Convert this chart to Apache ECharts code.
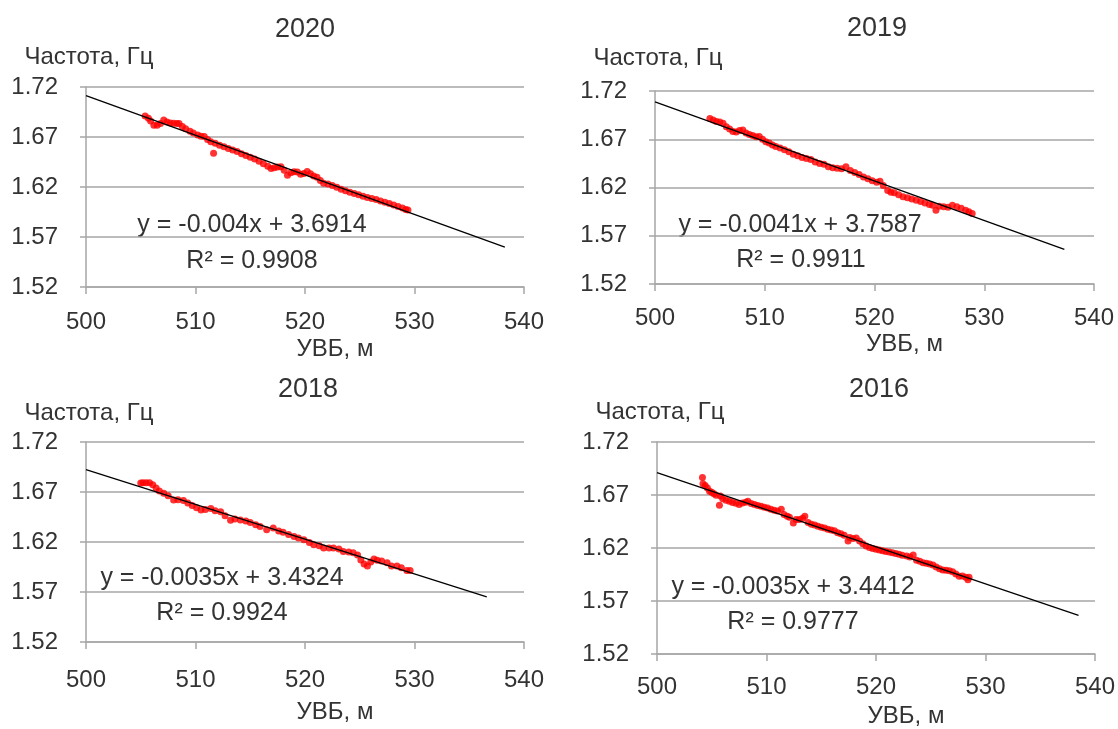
<!DOCTYPE html>
<html>
<head>
<meta charset="utf-8">
<title>Частота – УВБ</title>
<script src="https://cdn.jsdelivr.net/npm/echarts@6/dist/echarts.min.js"></script>
<style>
  html, body { margin: 0; padding: 0; background: #fff; }
  #chart { width: 1118px; height: 729px; }
</style>
</head>
<body>
<div id="chart"></div>
<script>
// Panel titles (years)
const years = ['2020', '2019', '2018', '2016'];

// Water level (УВБ, м) and natural frequency (Гц) per year
const uvb2020 = [505.4,505.7,505.9,506.2,506.5,506.8,507.1,507.4,507.7,508.0,508.3,508.5,508.8,509.1,509.5,509.8,510.2,510.5,510.8,511.1,511.4,511.65,511.8,512.2,512.6,513.0,513.4,513.8,514.2,514.6,515.0,515.4,515.8,516.2,516.6,516.9,517.2,517.5,517.8,518.1,518.4,518.7,519.0,519.3,519.6,519.9,520.2,520.5,520.8,521.1,521.4,521.7,522.1,522.5,522.9,523.3,523.7,524.1,524.5,524.9,525.3,525.7,526.1,526.5,526.9,527.3,527.7,528.1,528.5,528.9,529.2,529.4];
const freq2020 = [1.6910,1.6888,1.6860,1.6818,1.6817,1.6835,1.6870,1.6851,1.6839,1.6837,1.6835,1.6835,1.6805,1.6783,1.6758,1.6739,1.6720,1.6708,1.6706,1.6674,1.6653,1.6538,1.6637,1.6618,1.6602,1.6586,1.6570,1.6555,1.6532,1.6516,1.6497,1.6479,1.6458,1.6433,1.6407,1.6385,1.6393,1.6401,1.6402,1.6367,1.6318,1.6343,1.6352,1.6350,1.6328,1.6336,1.6354,1.6332,1.6310,1.6298,1.6266,1.6238,1.6229,1.6215,1.6197,1.6178,1.6162,1.6147,1.6134,1.6123,1.6107,1.6096,1.6085,1.6074,1.6059,1.6048,1.6034,1.6021,1.6005,1.5990,1.5976,1.5970];

const uvb2019 = [505.0,505.3,505.6,505.9,506.2,506.5,506.8,507.1,507.4,507.7,508.0,508.3,508.6,508.9,509.2,509.5,509.8,510.1,510.4,510.7,511.0,511.4,511.8,512.2,512.6,513.0,513.4,513.8,514.2,514.6,515.0,515.4,515.8,516.2,516.6,517.0,517.4,517.8,518.2,518.6,519.0,519.4,519.8,520.2,520.5,520.8,521.2,521.5,521.8,522.2,522.6,523.0,523.4,523.8,524.2,524.6,525.0,525.3,525.6,525.9,526.3,526.7,527.1,527.5,527.9,528.3,528.6,528.9];
const freq2019 = [1.6915,1.6900,1.6885,1.6880,1.6865,1.6830,1.6805,1.6780,1.6775,1.6790,1.6795,1.6765,1.6750,1.6740,1.6725,1.6728,1.6700,1.6675,1.6660,1.6640,1.6625,1.6610,1.6590,1.6570,1.6545,1.6530,1.6510,1.6500,1.6490,1.6465,1.6450,1.6440,1.6415,1.6405,1.6400,1.6395,1.6415,1.6375,1.6355,1.6335,1.6310,1.6290,1.6270,1.6255,1.6265,1.6220,1.6170,1.6150,1.6145,1.6125,1.6105,1.6095,1.6080,1.6068,1.6055,1.6040,1.6025,1.6015,1.5965,1.6005,1.6000,1.5995,1.6015,1.6000,1.5985,1.5965,1.5950,1.5930];

const uvb2018 = [505.0,505.2,505.5,505.8,506.1,506.4,506.7,507.1,507.5,508.0,508.4,508.9,509.3,509.7,510.1,510.5,510.9,511.4,511.8,512.3,512.7,513.2,513.6,514.1,514.6,515.0,515.5,515.9,516.5,517.1,517.6,518.0,518.5,519.0,519.4,519.9,520.4,520.8,521.3,521.7,522.2,522.6,523.1,523.5,524.0,524.4,524.8,525.1,525.4,525.7,526.0,526.3,526.6,527.0,527.5,527.9,528.4,528.8,529.3,529.6];
const freq2018 = [1.6790,1.6793,1.6793,1.6792,1.6772,1.6741,1.6711,1.6687,1.6663,1.6619,1.6622,1.6614,1.6590,1.6566,1.6542,1.6519,1.6525,1.6534,1.6513,1.6503,1.6462,1.6418,1.6431,1.6420,1.6409,1.6395,1.6373,1.6354,1.6323,1.6339,1.6311,1.6298,1.6275,1.6255,1.6239,1.6222,1.6194,1.6173,1.6163,1.6139,1.6141,1.6141,1.6130,1.6106,1.6099,1.6092,1.6071,1.6021,1.5980,1.5960,1.5999,1.6029,1.6018,1.6009,1.5992,1.5960,1.5959,1.5942,1.5914,1.5914];

const uvb2016 = [504.15,504.2,504.4,504.6,504.8,505.0,505.2,505.4,505.7,505.8,506.0,506.3,506.6,506.9,507.2,507.5,507.8,508.1,508.3,508.6,508.9,509.2,509.5,509.8,510.1,510.4,510.7,511.0,511.35,511.6,511.9,512.1,512.45,512.7,513.0,513.3,513.5,513.8,514.1,514.4,514.7,515.0,515.3,515.6,515.9,516.2,516.5,516.8,517.1,517.45,517.6,517.9,518.2,518.5,518.8,519.1,519.4,519.7,520.0,520.3,520.6,520.9,521.2,521.5,521.8,522.1,522.4,522.8,523.1,523.4,523.7,524.0,524.3,524.6,524.9,525.2,525.5,525.8,526.1,526.4,526.7,527.0,527.3,527.6,527.9,528.2,528.4,528.5];
const freq2016 = [1.6865,1.6805,1.6790,1.6765,1.6735,1.6725,1.6712,1.6698,1.6603,1.6690,1.6665,1.6650,1.6640,1.6630,1.6622,1.6610,1.6625,1.6632,1.6640,1.6620,1.6610,1.6600,1.6595,1.6585,1.6578,1.6565,1.6555,1.6548,1.6565,1.6515,1.6500,1.6490,1.6435,1.6470,1.6470,1.6480,1.6500,1.6440,1.6425,1.6418,1.6405,1.6395,1.6388,1.6378,1.6370,1.6362,1.6345,1.6335,1.6320,1.6265,1.6300,1.6290,1.6295,1.6265,1.6240,1.6220,1.6205,1.6195,1.6188,1.6180,1.6175,1.6168,1.6162,1.6155,1.6147,1.6140,1.6132,1.6125,1.6115,1.6133,1.6085,1.6075,1.6062,1.6055,1.6048,1.6040,1.6020,1.6005,1.5992,1.5990,1.5985,1.5976,1.5955,1.5934,1.5935,1.5923,1.5900,1.5925];

// Linear trend: slope, intercept, and the water level where the line stops
const trendSlopes = [-0.00396, -0.0041, -0.00348, -0.0035];
const trendIntercepts = [3.6914, 3.7587, 3.4324, 3.4412];
const trendStart = 500;
const trendEnds = [538.25, 537.3, 536.6, 538.5];

// Trend equation and R² captions
const equationLabels = ['y = -0.004x + 3.6914', 'y = -0.0041x + 3.7587', 'y = -0.0035x + 3.4324', 'y = -0.0035x + 3.4412'];
const r2Labels = ['R² = 0.9908', 'R² = 0.9911', 'R² = 0.9924', 'R² = 0.9777'];

// Axis ranges and captions
const xTicks = { min: 500, max: 540, step: 10 };
const yTicks = { min: 1.52, max: 1.72, step: 0.05 };
const yAxisTitle = 'Частота, Гц';
const xAxisTitle = 'УВБ, м';

const uvbSets = [uvb2020, uvb2019, uvb2018, uvb2016];
const freqSets = [freq2020, freq2019, freq2018, freq2016];

// ---- layout of the four panels ----
const panels = [
  { grid: { left: 86,  top: 87,  width: 438, height: 200 }, title: [305, 30],  yName: 57,  xLabelMargin: 23, xNameGap: 50, eq: [252, 225], r2: [252, 261] },
  { grid: { left: 655, top: 91,  width: 439, height: 193 }, title: [877, 29],  yName: 58,  xLabelMargin: 22, xNameGap: 48, eq: [800, 225], r2: [801, 260] },
  { grid: { left: 86,  top: 442, width: 438, height: 200 }, title: [308, 390], yName: 413, xLabelMargin: 26, xNameGap: 58, eq: [222, 578], r2: [222, 613] },
  { grid: { left: 657, top: 442, width: 438, height: 217 }, title: [879, 390], yName: 412, xLabelMargin: 21, xNameGap: 50, eq: [793, 587], r2: [793, 622] }
];

const FONT = '"Liberation Sans", Arial, sans-serif';
const TEXT = '#333333';
const GRID_GRAY = '#a6a6a6';

const grids = [], xAxes = [], yAxes = [], series = [], graphics = [];

panels.forEach((p, i) => {
  grids.push(Object.assign({ containLabel: false }, p.grid));

  xAxes.push({
    type: 'value', gridIndex: i,
    min: xTicks.min, max: xTicks.max, interval: xTicks.step,
    name: xAxisTitle, nameLocation: 'middle', nameGap: p.xNameGap,
    nameTextStyle: { color: TEXT, fontSize: 24, fontFamily: FONT, padding: [0, 0, 0, 60] },
    axisLine: { show: true, onZero: false, lineStyle: { color: GRID_GRAY, width: 1.5 } },
    axisTick: { show: true, length: 7, lineStyle: { color: GRID_GRAY, width: 1.5 } },
    axisLabel: { color: TEXT, fontSize: 24, fontFamily: FONT, margin: p.xLabelMargin },
    splitLine: { show: false }
  });

  yAxes.push({
    type: 'value', gridIndex: i,
    min: yTicks.min, max: yTicks.max, interval: yTicks.step,
    axisLine: { show: true, onZero: false, lineStyle: { color: GRID_GRAY, width: 1.5 } },
    axisTick: { show: true, length: 6, lineStyle: { color: GRID_GRAY, width: 1.5 } },
    axisLabel: { color: TEXT, fontSize: 24, fontFamily: FONT, margin: 28,
                 formatter: v => v.toFixed(2) },
    splitLine: { show: true, lineStyle: { color: GRID_GRAY, width: 1.5 } }
  });

  // measured points
  series.push({
    type: 'scatter', xAxisIndex: i, yAxisIndex: i,
    data: uvbSets[i].map((x, k) => [x, freqSets[i][k]]),
    symbol: 'circle', symbolSize: 7,
    itemStyle: { color: '#ff0000' },
    z: 2, silent: true
  });

  // linear trend line
  const f = x => trendIntercepts[i] + trendSlopes[i] * x;
  series.push({
    type: 'line', xAxisIndex: i, yAxisIndex: i,
    data: [[trendStart, f(trendStart)], [trendEnds[i], f(trendEnds[i])]],
    showSymbol: false, symbol: 'none',
    lineStyle: { color: '#000000', width: 1.3 },
    z: 3, silent: true
  });

  const text = (x, y, s, size) => ({
    type: 'text', x, y, silent: true,
    style: { text: s, fill: TEXT, fontSize: size, fontFamily: FONT, align: 'center', verticalAlign: 'middle' }
  });
  graphics.push(text(p.title[0], p.title[1], years[i], 27));
  graphics.push(text(p.grid.left + 3, p.yName, yAxisTitle, 24));
  graphics.push(text(p.eq[0], p.eq[1], equationLabels[i], 25));
  graphics.push(text(p.r2[0], p.r2[1], r2Labels[i], 25));
});

const chart = echarts.init(document.getElementById('chart'), null, { renderer: 'canvas' });
chart.setOption({
  animation: false,
  backgroundColor: '#ffffff',
  grid: grids,
  xAxis: xAxes,
  yAxis: yAxes,
  series: series,
  graphic: graphics
});
</script>
</body>
</html>
